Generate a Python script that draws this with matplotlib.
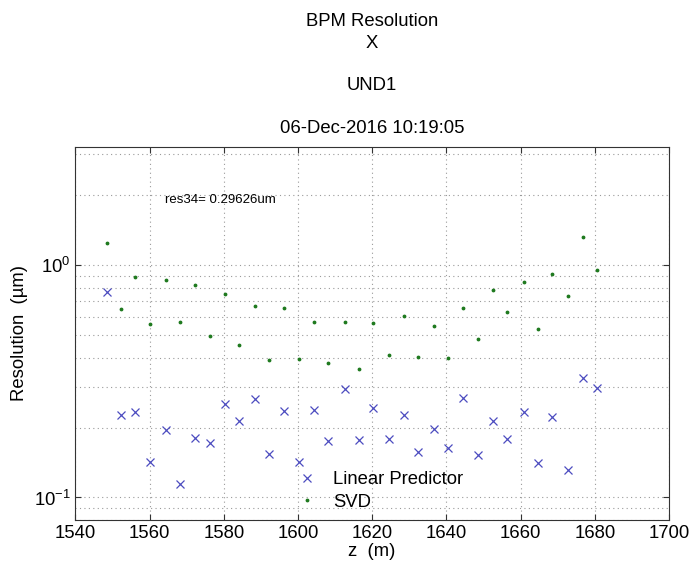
import numpy as np
import matplotlib
matplotlib.use('Agg')
import matplotlib.pyplot as plt
from matplotlib.ticker import LogLocator, NullFormatter, MultipleLocator

plt.rcParams['font.family'] = ['Liberation Sans', 'DejaVu Sans']
plt.rcParams['mathtext.fontset'] = 'custom'
plt.rcParams['mathtext.rm'] = 'Liberation Sans'

# BPM z positions (m)
z = [1548.5, 1552.3, 1556.2, 1560.1, 1564.4, 1568.2, 1572.2, 1576.4, 1580.3, 1584.2,
     1588.4, 1592.3, 1596.3, 1600.4, 1604.4, 1608.1, 1612.6, 1616.4, 1620.2, 1624.4,
     1628.5, 1632.3, 1636.7, 1640.4, 1644.4, 1648.6, 1652.6, 1656.4, 1660.8, 1664.6,
     1668.4, 1672.8, 1676.7, 1680.7]

# resolution, linear predictor (um)
res_lp = [0.769, 0.226, 0.233, 0.142, 0.195, 0.114, 0.181, 0.171, 0.253, 0.213,
          0.266, 0.154, 0.236, 0.142, 0.238, 0.175, 0.292, 0.176, 0.243, 0.179,
          0.227, 0.157, 0.198, 0.164, 0.267, 0.153, 0.214, 0.178, 0.233, 0.141,
          0.222, 0.131, 0.327, 0.29626]

# resolution, SVD (um)
res_svd = [1.244, 0.650, 0.890, 0.557, 0.862, 0.568, 0.820, 0.498, 0.754, 0.455,
           0.668, 0.392, 0.653, 0.394, 0.570, 0.378, 0.570, 0.358, 0.562, 0.412,
           0.605, 0.404, 0.546, 0.398, 0.656, 0.481, 0.780, 0.631, 0.845, 0.531,
           0.920, 0.740, 1.328, 0.954]

title_lines = ['BPM Resolution', 'X', '', 'UND1', '', '06-Dec-2016 10:19:05']

fig = plt.figure(figsize=(6.93, 5.66), dpi=100)
ax = fig.add_axes([0.1087, 0.0813, 0.8567, 0.6595])

ax.plot(z, res_lp, linestyle='none', marker='x', markersize=5.5, mew=0.9,
        color='#4c4cc0', label='Linear Predictor')
ax.plot(z, res_svd, linestyle='none', marker='.', markersize=3.5,
        color='#1f7a1f', label='SVD')

ax.set_yscale('log')
ax.set_xlim(1540, 1700)
ax.set_ylim(0.08, 3.24)
ax.xaxis.set_major_locator(MultipleLocator(20))
ax.yaxis.set_major_locator(LogLocator(base=10))
ax.yaxis.set_minor_locator(LogLocator(base=10, subs=np.arange(2, 10)))
ax.yaxis.set_minor_formatter(NullFormatter())

# dotted grid, like matlab
gstyle = dict(linestyle=(0, (1, 3)), color='#9a9a9a', linewidth=0.8)
ax.grid(True, which='major', **gstyle)
ax.grid(True, which='minor', axis='y', **gstyle)
ax.tick_params(which='major', direction='in', length=4, top=True, right=True,
               labelsize=13.3, color='#333333')
ax.tick_params(which='minor', length=0)
for s in ax.spines.values():
    s.set_color('#333333')
    s.set_linewidth(0.8)

ax.set_xlabel('z  (m)', fontsize=13.3, labelpad=1)
ax.set_ylabel('Resolution  (\u00b5m)', fontsize=13.3, labelpad=4)
ax.set_title('\n'.join(title_lines), fontsize=13.3, linespacing=1.33, pad=10)

ax.text(1564.2, 1.91, 'res34= %.5fum' % res_lp[-1], fontsize=9.5, va='center', ha='left')

ax.legend(loc='lower left', bbox_to_anchor=(0.353, -0.01), frameon=False, fontsize=13.3,
          handlelength=1.0, handletextpad=0.9, borderpad=0.2, labelspacing=0.3,
          markerscale=1.0)

fig.savefig('out.png', dpi=100)
